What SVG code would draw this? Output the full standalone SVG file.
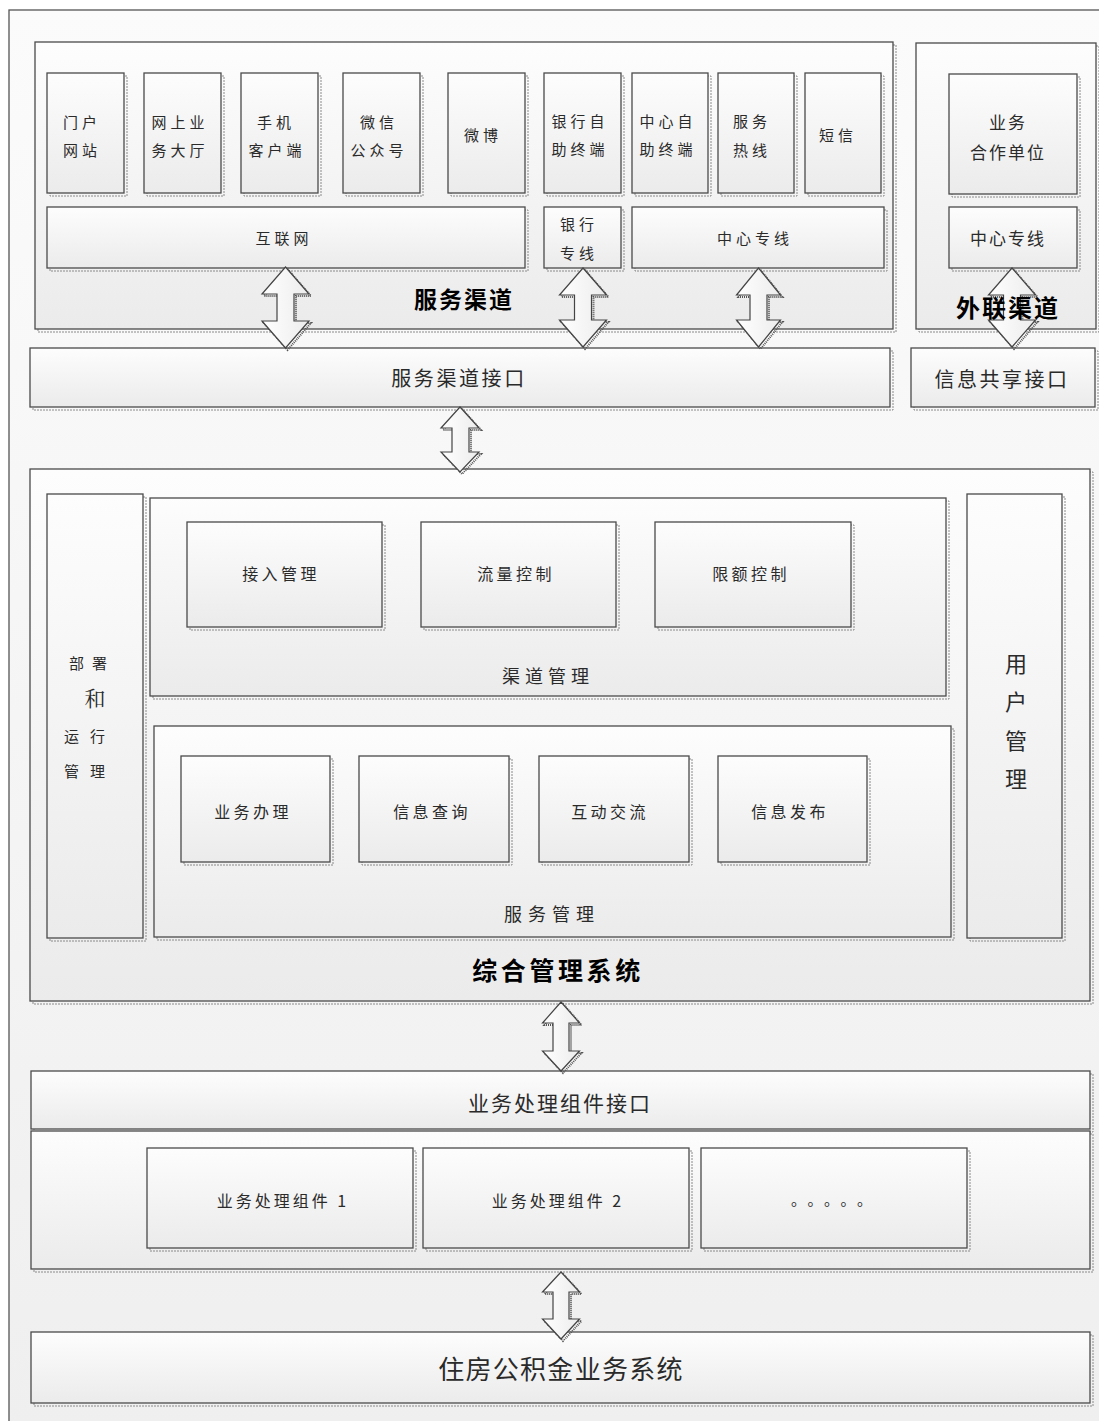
<svg xmlns="http://www.w3.org/2000/svg" width="1099" height="1421" viewBox="0 0 1099 1421">
<defs>
<linearGradient id="g" x1="0" y1="0" x2="0" y2="1">
<stop offset="0" stop-color="#fdfdfd"/>
<stop offset="1" stop-color="#ebebeb"/>
</linearGradient>
<linearGradient id="bg" x1="0" y1="0" x2="0" y2="1">
<stop offset="0" stop-color="#fbfbfb"/>
<stop offset="1" stop-color="#efefef"/>
</linearGradient>
<linearGradient id="ag" x1="0" y1="0" x2="1" y2="0">
<stop offset="0" stop-color="#ffffff"/>
<stop offset="1" stop-color="#ececec"/>
</linearGradient>
<style>
.frame{fill:url(#bg);stroke:#555;stroke-width:1.3}
.box{fill:url(#g);stroke:#4a4a4a;stroke-width:1.3}
.sh{fill:none;stroke:#8a8a8a;stroke-width:1;stroke-dasharray:2 1}
.t{font-family:"Noto Sans CJK SC","Noto Sans",sans-serif;fill:#2a2a2a;text-anchor:middle;dominant-baseline:central}
.s{font-size:15px;letter-spacing:4px}
.m{font-size:16px;letter-spacing:3.4px}
.b{font-weight:bold;fill:#000}
.arr{fill:url(#ag);stroke:#444;stroke-width:1.2;stroke-linejoin:miter}
.ash{fill:none;stroke:#555;stroke-width:2;stroke-dasharray:1 1}
</style>
</defs>

<rect x="0" y="0" width="1099" height="1421" fill="#ffffff"/>
<rect class="frame" x="9" y="10" width="1100" height="1420"/>

<g id="service-channel">
<rect class="sh" x="38" y="45" width="858" height="287"/>
<rect class="box" x="35" y="42" width="858" height="287"/>
</g>
<g id="external-channel">
<rect class="sh" x="919" y="46" width="180" height="286"/>
<rect class="box" x="916" y="43" width="180" height="286"/>
</g>

<g id="n-menhu"><rect class="sh" x="50" y="76" width="77" height="120"/><rect class="box" x="47" y="73" width="77" height="120"/>
<text class="t s" x="82" y="121">门户</text><text class="t s" x="82" y="149">网站</text></g>
<g id="n-wangshang"><rect class="sh" x="147" y="76" width="77" height="120"/><rect class="box" x="144" y="73" width="77" height="120"/>
<text class="t s" x="180" y="121">网上业</text><text class="t s" x="180" y="149">务大厅</text></g>
<g id="n-shouji"><rect class="sh" x="244" y="76" width="77" height="120"/><rect class="box" x="241" y="73" width="77" height="120"/>
<text class="t s" x="276" y="121">手机</text><text class="t s" x="277" y="149">客户端</text></g>
<g id="n-weixin"><rect class="sh" x="346" y="76" width="77" height="120"/><rect class="box" x="343" y="73" width="77" height="120"/>
<text class="t s" x="379" y="121">微信</text><text class="t s" x="379" y="149">公众号</text></g>
<g id="n-weibo"><rect class="sh" x="451" y="76" width="77" height="120"/><rect class="box" x="448" y="73" width="77" height="120"/>
<text class="t s" x="483" y="134">微博</text></g>
<g id="n-yinhangzizhu"><rect class="sh" x="547" y="76" width="77" height="120"/><rect class="box" x="544" y="73" width="77" height="120"/>
<text class="t s" x="580" y="120">银行自</text><text class="t s" x="580" y="148">助终端</text></g>
<g id="n-zhongxinzizhu"><rect class="sh" x="635" y="76" width="76" height="120"/><rect class="box" x="632" y="73" width="76" height="120"/>
<text class="t s" x="668" y="120">中心自</text><text class="t s" x="668" y="148">助终端</text></g>
<g id="n-rexian"><rect class="sh" x="721" y="76" width="76" height="120"/><rect class="box" x="718" y="73" width="76" height="120"/>
<text class="t s" x="752" y="120">服务</text><text class="t s" x="752" y="149">热线</text></g>
<g id="n-duanxin"><rect class="sh" x="808" y="76" width="76" height="120"/><rect class="box" x="805" y="73" width="76" height="120"/>
<text class="t s" x="838" y="134">短信</text></g>
<g id="n-hezuo"><rect class="sh" x="952" y="77" width="128" height="120"/><rect class="box" x="949" y="74" width="128" height="120"/>
<text class="t" style="font-size:17px;letter-spacing:2px" x="1008" y="121">业务</text><text class="t" style="font-size:17px;letter-spacing:2px" x="1008" y="151">合作单位</text></g>

<g id="n-hulianwang"><rect class="sh" x="50" y="210" width="478" height="61"/><rect class="box" x="47" y="207" width="478" height="61"/>
<text class="t s" x="284" y="237">互联网</text></g>
<g id="n-yinhangzhuanxian"><rect class="sh" x="547" y="210" width="77" height="61"/><rect class="box" x="544" y="207" width="77" height="61"/>
<text class="t s" x="579" y="223">银行</text><text class="t s" x="579" y="252">专线</text></g>
<g id="n-zhongxinzhuanxian"><rect class="sh" x="635" y="210" width="252" height="61"/><rect class="box" x="632" y="207" width="252" height="61"/>
<text class="t s" x="755" y="237">中心专线</text></g>
<g id="n-zhongxinzhuanxian2"><rect class="sh" x="952" y="210" width="128" height="61"/><rect class="box" x="949" y="207" width="128" height="61"/>
<text class="t" style="font-size:17px;letter-spacing:2px" x="1008" y="237">中心专线</text></g>

<g id="n-fuwuqudaojiekou"><rect class="sh" x="33" y="351" width="860" height="59"/><rect class="box" x="30" y="348" width="860" height="59"/>
<text class="t" style="font-size:20px;letter-spacing:2.6px" x="459" y="377">服务渠道接口</text></g>
<g id="n-xinxigongxiang"><rect class="sh" x="914" y="351" width="184" height="59"/><rect class="box" x="911" y="348" width="184" height="59"/>
<text class="t" style="font-size:20px;letter-spacing:2.5px" x="1002" y="378">信息共享接口</text></g>

<g id="zonghe">
<rect class="sh" x="33" y="472" width="1060" height="532"/>
<rect class="box" x="30" y="469" width="1060" height="532"/>
</g>
<g id="n-bushu"><rect class="sh" x="50" y="497" width="96" height="444"/><rect class="box" x="47" y="494" width="96" height="444"/>
<text class="t" style="font-size:15px;letter-spacing:8px" x="92" y="662">部署</text>
<text class="t" style="font-size:21px;font-family:'Noto Serif CJK SC','Noto Sans CJK SC',serif" x="95" y="697">和</text>
<text class="t" style="font-size:15px;letter-spacing:11px" x="90" y="735">运行</text>
<text class="t" style="font-size:15px;letter-spacing:11px" x="90" y="770">管理</text></g>
<g id="n-qudaoguanli"><rect class="sh" x="153" y="501" width="796" height="198"/><rect class="box" x="150" y="498" width="796" height="198"/>
<text class="t" style="font-size:18px;letter-spacing:5px" x="548" y="675">渠道管理</text></g>
<g id="n-jieru"><rect class="sh" x="190" y="525" width="195" height="105"/><rect class="box" x="187" y="522" width="195" height="105"/>
<text class="t m" x="281" y="573">接入管理</text></g>
<g id="n-liuliang"><rect class="sh" x="424" y="525" width="195" height="105"/><rect class="box" x="421" y="522" width="195" height="105"/>
<text class="t m" x="516" y="573">流量控制</text></g>
<g id="n-xiane"><rect class="sh" x="658" y="525" width="196" height="105"/><rect class="box" x="655" y="522" width="196" height="105"/>
<text class="t m" x="751" y="573">限额控制</text></g>
<g id="n-fuwuguanli"><rect class="sh" x="157" y="729" width="797" height="211"/><rect class="box" x="154" y="726" width="797" height="211"/>
<text class="t" style="font-size:18px;letter-spacing:6px" x="552" y="913">服务管理</text></g>
<g id="n-yewubanli"><rect class="sh" x="184" y="759" width="149" height="106"/><rect class="box" x="181" y="756" width="149" height="106"/>
<text class="t m" x="253" y="811">业务办理</text></g>
<g id="n-xinxichaxun"><rect class="sh" x="362" y="759" width="150" height="106"/><rect class="box" x="359" y="756" width="150" height="106"/>
<text class="t m" x="432" y="811">信息查询</text></g>
<g id="n-hudong"><rect class="sh" x="542" y="759" width="150" height="106"/><rect class="box" x="539" y="756" width="150" height="106"/>
<text class="t m" x="610" y="811">互动交流</text></g>
<g id="n-fabu"><rect class="sh" x="721" y="759" width="149" height="106"/><rect class="box" x="718" y="756" width="149" height="106"/>
<text class="t m" x="790" y="811">信息发布</text></g>
<g id="n-yonghu"><rect class="sh" x="970" y="497" width="95" height="444"/><rect class="box" x="967" y="494" width="95" height="444"/>
<text class="t" style="font-size:22px" x="1016" y="662">用</text>
<text class="t" style="font-size:22px" x="1016" y="700">户</text>
<text class="t" style="font-size:22px" x="1016" y="739">管</text>
<text class="t" style="font-size:22px" x="1016" y="777">理</text></g>

<g id="n-zujianjiekou"><rect class="sh" x="34" y="1074" width="1059" height="58"/><rect class="box" x="31" y="1071" width="1059" height="58"/>
<text class="t" style="font-size:21px;letter-spacing:2px" x="560" y="1102">业务处理组件接口</text></g>
<g id="zujian-container"><rect class="sh" x="34" y="1134" width="1059" height="138"/><rect class="box" x="31" y="1131" width="1059" height="138"/></g>
<g id="n-zujian1"><rect class="sh" x="150" y="1151" width="266" height="100"/><rect class="box" x="147" y="1148" width="266" height="100"/>
<text class="t" style="font-size:16px;letter-spacing:3px" x="283" y="1200">业务处理组件 1</text></g>
<g id="n-zujian2"><rect class="sh" x="426" y="1151" width="266" height="100"/><rect class="box" x="423" y="1148" width="266" height="100"/>
<text class="t" style="font-size:16px;letter-spacing:3px" x="558" y="1200">业务处理组件 2</text></g>
<g id="n-more"><rect class="sh" x="704" y="1151" width="266" height="100"/><rect class="box" x="701" y="1148" width="266" height="100"/>
<text class="t" style="font-size:15px;letter-spacing:9px" x="836" y="1198">。。。。。</text></g>
<g id="n-zhufang"><rect class="sh" x="34" y="1335" width="1059" height="71"/><rect class="box" x="31" y="1332" width="1059" height="71"/>
<text class="t" style="font-size:26px;letter-spacing:1.3px" x="561" y="1367">住房公积金业务系统</text></g>

<g id="connectors">
<path class="ash" transform="translate(2,2)" d="M285.5,267 L309,294 L294,294 L294,321 L309,321 L285.5,348 L262,321 L277,321 L277,294 L262,294 Z"/>
<path class="arr" d="M285.5,267 L309,294 L294,294 L294,321 L309,321 L285.5,348 L262,321 L277,321 L277,294 L262,294 Z"/>
<path class="ash" transform="translate(2,2)" d="M583,268 L606.5,295 L591.5,295 L591.5,320 L606.5,320 L583,347 L559.5,320 L574.5,320 L574.5,295 L559.5,295 Z"/>
<path class="arr" d="M583,268 L606.5,295 L591.5,295 L591.5,320 L606.5,320 L583,347 L559.5,320 L574.5,320 L574.5,295 L559.5,295 Z"/>
<path class="ash" transform="translate(2,2)" d="M758.5,268 L780.5,295 L767,295 L767,320 L780.5,320 L758.5,347 L736.5,320 L750,320 L750,295 L736.5,295 Z"/>
<path class="arr" d="M758.5,268 L780.5,295 L767,295 L767,320 L780.5,320 L758.5,347 L736.5,320 L750,320 L750,295 L736.5,295 Z"/>
<path class="ash" transform="translate(2,2)" d="M1012,268 L1035.5,295 L1020.5,295 L1020.5,320 L1035.5,320 L1012,347 L988.5,320 L1003.5,320 L1003.5,295 L988.5,295 Z"/>
<path class="arr" d="M1012,268 L1035.5,295 L1020.5,295 L1020.5,320 L1035.5,320 L1012,347 L988.5,320 L1003.5,320 L1003.5,295 L988.5,295 Z"/>
<path class="ash" transform="translate(2,2)" d="M460,407 L479,428 L469,428 L469,452 L479,452 L460,472 L441,452 L452,452 L452,428 L441,428 Z"/>
<path class="arr" d="M460,407 L479,428 L469,428 L469,452 L479,452 L460,472 L441,452 L452,452 L452,428 L441,428 Z"/>
<path class="ash" transform="translate(2,2)" d="M561,1002 L579.5,1023 L569,1023 L569,1051 L579.5,1051 L561,1071 L542.5,1051 L553,1051 L553,1023 L542.5,1023 Z"/>
<path class="arr" d="M561,1002 L579.5,1023 L569,1023 L569,1051 L579.5,1051 L561,1071 L542.5,1051 L553,1051 L553,1023 L542.5,1023 Z"/>
<path class="ash" transform="translate(2,2)" d="M561,1272 L579.5,1292 L569,1292 L569,1319 L579.5,1319 L561,1339 L542.5,1319 L553,1319 L553,1292 L542.5,1292 Z"/>
<path class="arr" d="M561,1272 L579.5,1292 L569,1292 L569,1319 L579.5,1319 L561,1339 L542.5,1319 L553,1319 L553,1292 L542.5,1292 Z"/>
</g>

<g id="container-labels">
<text class="t b" style="font-size:23px;letter-spacing:2px" x="464" y="298">服务渠道</text>
<text class="t b" style="font-size:24px;letter-spacing:2px" x="1008" y="306">外联渠道</text>
<text class="t b" style="font-size:25px;letter-spacing:3.6px" x="558" y="969">综合管理系统</text>
</g>
</svg>
